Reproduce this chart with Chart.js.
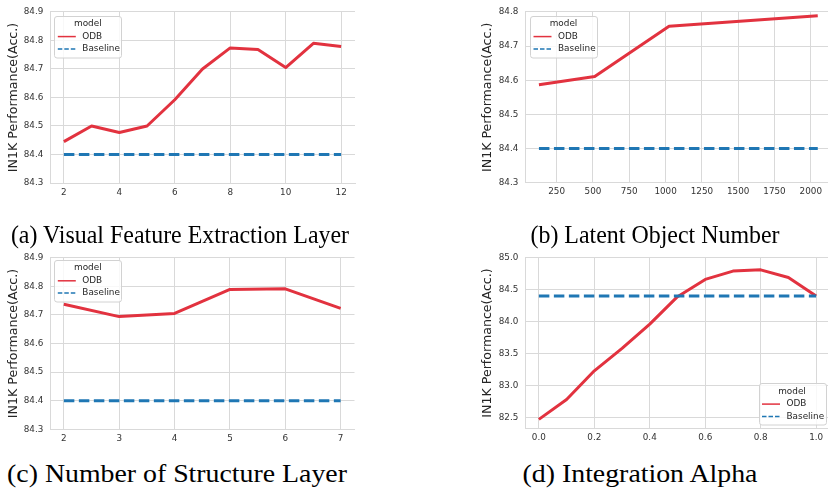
<!DOCTYPE html>
<html>
<head>
<meta charset="utf-8">
<script src="https://cdn.jsdelivr.net/npm/chart.js@4.4.1/dist/chart.umd.min.js"></script>
<style>
html, body { margin: 0; padding: 0; background: #fff; overflow: hidden; width: 828px; height: 489px; }
canvas { position: absolute; }
.cap {
  position: absolute; white-space: nowrap; color: #000;
  font-family: "Liberation Serif", "Times New Roman", serif; font-size: 26px;
  transform: translate(-50%, -50%) scaleX(0.92);
}
.cap.wide { transform: translate(-50%, -50%) scaleX(1.07); }
</style>
</head>
<body>
<canvas id="cA" width="360" height="200" style="left:0;top:0"></canvas>
<canvas id="cB" width="362" height="200" style="left:474px;top:0"></canvas>
<canvas id="cC" width="360" height="200" style="left:0;top:245px"></canvas>
<canvas id="cD" width="362" height="200" style="left:474px;top:245px"></canvas>

<div class="cap" style="left:180px;top:235px">(a) Visual Feature Extraction Layer</div>
<div class="cap" style="left:655px;top:235px">(b) Latent Object Number</div>
<div class="cap wide" style="left:177px;top:474px">(c) Number of Structure Layer</div>
<div class="cap wide" style="left:640px;top:474px">(d) Integration Alpha</div>

<script>
// (a) visual feature extraction layer
const layersA = [2, 3, 4, 5, 6, 7, 8, 9, 10, 11, 12];
const odbA = [84.445, 84.50, 84.477, 84.50, 84.592, 84.70, 84.774, 84.768, 84.705, 84.79, 84.779];
const baseA = [84.4, 84.4, 84.4, 84.4, 84.4, 84.4, 84.4, 84.4, 84.4, 84.4, 84.4];
const xTicksA = [2, 4, 6, 8, 10, 12];
const yTicksA = [84.3, 84.4, 84.5, 84.6, 84.7, 84.8, 84.9];

// (b) latent object number
const objectsB = [128, 512, 1024, 2048];
const odbB = [84.587, 84.611, 84.758, 84.789];
const baseB = [84.4, 84.4, 84.4, 84.4];
const xTicksB = [250, 500, 750, 1000, 1250, 1500, 1750, 2000];
const yTicksB = [84.3, 84.4, 84.5, 84.6, 84.7, 84.8];

// (c) number of structure layer
const structC = [2, 3, 4, 5, 6, 7];
const odbC = [84.737, 84.694, 84.705, 84.789, 84.791, 84.723];
const baseC = [84.4, 84.4, 84.4, 84.4, 84.4, 84.4];
const xTicksC = [2, 3, 4, 5, 6, 7];
const yTicksC = [84.3, 84.4, 84.5, 84.6, 84.7, 84.8, 84.9];

// (d) integration alpha
const alphaD = [0.0, 0.1, 0.2, 0.3, 0.4, 0.5, 0.6, 0.7, 0.8, 0.9, 1.0];
const odbD = [82.47, 82.78, 83.23, 83.58, 83.96, 84.39, 84.66, 84.79, 84.81, 84.69, 84.40];
const baseD = [84.4, 84.4, 84.4, 84.4, 84.4, 84.4, 84.4, 84.4, 84.4, 84.4, 84.4];
const xTicksD = [0.0, 0.2, 0.4, 0.6, 0.8, 1.0];
const yTicksD = [82.5, 83.0, 83.5, 84.0, 84.5, 85.0];

const seriesNames = ['ODB', 'Baseline'];
const legendTitle = 'model';
const yTitle = 'IN1K Performance(Acc.)';

const RED = '#e2323f';
const BLUE = '#1f77b4';
const GRID = '#d9d9d9';
const TXT = '#333333';

// seaborn-like legend box inside the axes
const boxLegend = {
  id: 'boxLegend',
  afterDraw(chart, args, opts) {
    const { ctx, chartArea: a } = chart;
    const w = 67, h = 41.5;
    const x = opts.corner === 'br' ? a.right - opts.dx - w : a.left + opts.dx;
    const y = opts.corner === 'br' ? a.bottom - opts.dy - h : a.top + opts.dy;
    ctx.save();
    ctx.fillStyle = 'rgba(255,255,255,0.8)';
    ctx.strokeStyle = '#d2d2d2';
    ctx.lineWidth = 1;
    ctx.beginPath();
    ctx.roundRect(Math.round(x) + 0.5, Math.round(y) + 0.5, w, h, 2.5);
    ctx.fill();
    ctx.stroke();
    ctx.font = '8.9px "DejaVu Sans"';
    ctx.fillStyle = '#262626';
    ctx.textBaseline = 'middle';
    ctx.textAlign = 'center';
    ctx.fillText(legendTitle, x + w / 2, y + 7.8);
    ctx.textAlign = 'left';
    chart.data.datasets.forEach((ds, i) => {
      const ry = y + 20.6 + i * 12.3;
      ctx.strokeStyle = ds.borderColor;
      ctx.lineWidth = 1.5;
      ctx.setLineDash(ds.borderDash ? [4.5, 2] : []);
      ctx.beginPath();
      ctx.moveTo(x + 3.5, ry);
      ctx.lineTo(x + 21.5, ry);
      ctx.stroke();
      ctx.setLineDash([]);
      ctx.fillText(ds.label, x + 28, ry);
    });
    ctx.restore();
  }
};

function makeChart(id, c) {
  const ctx = document.getElementById(id).getContext('2d');
  const font = { family: 'DejaVu Sans', size: 8.8 };
  return new Chart(ctx, {
    type: 'line',
    data: {
      datasets: [
        {
          label: seriesNames[0],
          data: c.x.map((v, i) => ({ x: v, y: c.odb[i] })),
          borderColor: RED, borderWidth: 3, pointRadius: 0, tension: 0,
          borderJoinStyle: 'round', order: 1
        },
        {
          label: seriesNames[1],
          data: c.x.map((v, i) => ({ x: v, y: c.base[i] })),
          borderColor: BLUE, borderWidth: 3, pointRadius: 0,
          borderDash: [10.5, 4.5], order: 0
        }
      ]
    },
    options: {
      responsive: false,
      animation: false,
      layout: { padding: { top: c.padTop, right: c.padRight, left: 0, bottom: 0 } },
      plugins: {
        legend: { display: false },
        tooltip: { enabled: false },
        boxLegend: c.legend
      },
      scales: {
        x: {
          type: 'linear', min: c.xMin, max: c.xMax,
          afterFit: s => { s.height = c.xH; },
          afterBuildTicks: s => { s.ticks = c.xTicks.map(v => ({ value: v })); },
          grid: { color: GRID, drawTicks: false },
          border: { color: GRID },
          ticks: { padding: 4.2, font, color: TXT, maxRotation: 0, callback: c.xFmt }
        },
        y: {
          min: c.yMin, max: c.yMax,
          afterFit: s => { s.width = c.yW; },
          afterBuildTicks: s => { s.ticks = c.yTicks.map(v => ({ value: v })); },
          grid: { color: GRID, drawTicks: false },
          border: { color: GRID },
          ticks: { padding: 6.7, font, color: TXT, callback: v => v.toFixed(1) },
          title: {
            display: true, text: yTitle, color: '#262626',
            font: { family: 'DejaVu Sans', size: 12.6 },
            padding: { top: 6.4, bottom: 0 }
          }
        }
      }
    },
    plugins: [boxLegend]
  });
}

const intFmt = v => String(Math.round(v));

makeChart('cA', {
  x: layersA, odb: odbA, base: baseA, xTicks: xTicksA, yTicks: yTicksA,
  xMin: 1.5, xMax: 12.5, yMin: 84.3, yMax: 84.9,
  padTop: 9.3, padRight: 5, xH: 17, yW: 50, xFmt: intFmt,
  legend: { corner: 'tl', dx: 4.3, dy: 4 }
});

makeChart('cB', {
  x: objectsB, odb: odbB, base: baseB, xTicks: xTicksB, yTicks: yTicksB,
  xMin: 32, xMax: 2144, yMin: 84.3, yMax: 84.8,
  padTop: 9.3, padRight: 4.3, xH: 17.3, yW: 51, xFmt: intFmt,
  legend: { corner: 'tl', dx: 5, dy: 4 }
});

makeChart('cC', {
  x: structC, odb: odbC, base: baseC, xTicks: xTicksC, yTicks: yTicksC,
  xMin: 1.75, xMax: 7.25, yMin: 84.3, yMax: 84.9,
  padTop: 12.7, padRight: 5.5, xH: 15.7, yW: 50, xFmt: intFmt,
  legend: { corner: 'tl', dx: 4.3, dy: 2.5 }
});

makeChart('cD', {
  x: alphaD, odb: odbD, base: baseD, xTicks: xTicksD, yTicks: yTicksD,
  xMin: -0.05, xMax: 1.05, yMin: 82.33, yMax: 85.0,
  padTop: 12.7, padRight: 6, xH: 16.7, yW: 51, xFmt: v => v.toFixed(1),
  legend: { corner: 'br', dx: 4.5, dy: 3.3 }
});
</script>
</body>
</html>
